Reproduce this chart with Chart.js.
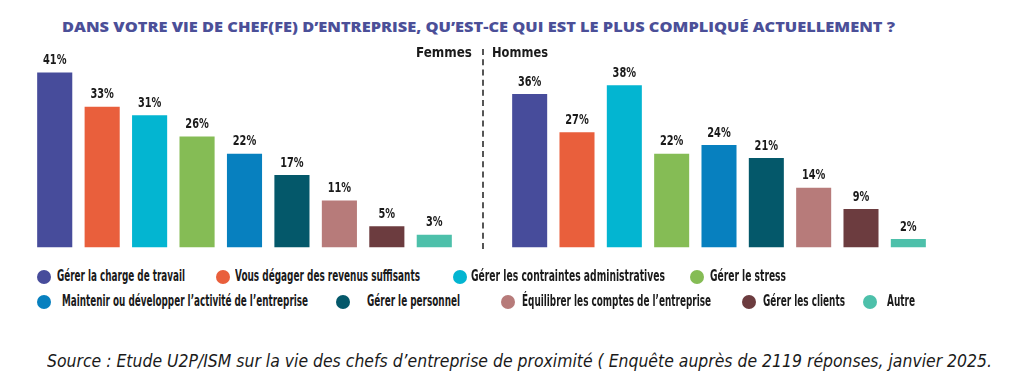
<!DOCTYPE html>
<html lang="fr">
<head>
<meta charset="utf-8">
<script src="https://cdn.jsdelivr.net/npm/chart.js@4.4.1/dist/chart.umd.min.js"></script>
<style>
  body { margin: 0; background: #fff; width: 1024px; height: 387px; overflow: hidden; position: relative; }
  .narrow { font-family: 'DejaVu Sans', sans-serif; }
  .fit { position: absolute; white-space: nowrap; transform-origin: 0 0; }
  #title { left: 62px; top: 17px; font-family: 'Open Sans', sans-serif; font-weight: 800;
           font-size: 14px; color: #4b4f98; }
  .panel { position: absolute; top: 40px; width: 480px; height: 210px; }
  #divider { position: absolute; left: 482px; top: 49px; height: 200px; border-left: 2px dashed #555; }
  .side { top: 44px; font-size: 14.5px; font-weight: bold; color: #1a1a1a; }
  .lg { font-size: 15px; font-weight: bold; color: #1a1a1a; }
  .dot { position: absolute; width: 14px; height: 14px; border-radius: 50%; }
  #source { left: 47px; top: 351px; font-size: 17px; font-style: italic; color: #1a1a1a; }
</style>
</head>
<body>

<div id="title" class="fit" data-w="833">DANS VOTRE VIE DE CHEF(FE) D’ENTREPRISE, QU’EST-CE QUI EST LE PLUS COMPLIQUÉ ACTUELLEMENT ?</div>

<div class="panel" style="left:0"><canvas id="chartF"></canvas></div>
<div class="panel" style="left:475px"><canvas id="chartH"></canvas></div>
<div id="divider"></div>
<div class="fit side narrow" style="left:416px" data-w="56">Femmes</div>
<div class="fit side narrow" style="left:492px" data-w="56">Hommes</div>

<div id="legend"></div>

<div id="source" class="fit narrow" data-w="945">Source : Etude U2P/ISM sur la vie des chefs d’entreprise de proximité ( Enquête auprès de 2119 réponses, janvier 2025.</div>

<script>
// Data
// --------------------------------------------
let categories = [
    'Gérer la charge de travail',
    'Vous dégager des revenus suffisants',
    'Gérer les contraintes administratives',
    'Gérer le stress',
    'Maintenir ou développer l’activité de l’entreprise',
    'Gérer le personnel',
    'Équilibrer les comptes de l’entreprise',
    'Gérer les clients',
    'Autre'
]
let femmes = [41, 33, 31, 26, 22, 17, 11, 5, 3]
let hommes = [36, 27, 38, 22, 24, 21, 14, 9, 2]
let colors = ['#474c9b', '#e95f3c', '#03b5d1', '#85bc55', '#0780bf', '#04586a', '#b77b7a', '#6c3c3f', '#4dc0aa']

// Legend layout (dot x, text x, text end x, row)
// --------------------------------------------
let legendPos = [
    [44, 57, 185, 0], [223, 235, 420, 0], [460, 471, 665, 0], [697, 710, 786, 0],
    [44, 62, 308, 1], [343, 367, 460, 1], [508, 522, 711, 1], [749, 763, 845, 1], [870, 887, 915, 1]
]
let rowY = [277, 302]

function buildLegend() {
    let box = document.getElementById('legend')
    categories.forEach((c, i) => {
        let p = legendPos[i]
        let dot = document.createElement('div')
        dot.className = 'dot'
        dot.style.left = (p[0] - 7) + 'px'
        dot.style.top = (rowY[p[3]] - 7) + 'px'
        dot.style.background = colors[i]
        box.appendChild(dot)
        let t = document.createElement('div')
        t.className = 'fit lg narrow'
        t.style.left = p[1] + 'px'
        t.style.top = (rowY[p[3]] - 10) + 'px'
        t.dataset.w = p[2] - p[1]
        t.textContent = c
        box.appendChild(t)
    })
}

// squeeze texts horizontally to the width seen in the picture
function fitTexts() {
    document.querySelectorAll('.fit').forEach(el => {
        let w = el.getBoundingClientRect().width
        el.style.transform = 'scaleX(' + (el.dataset.w / w) + ')'
    })
}

// Value labels above bars
// --------------------------------------------
const valueLabels = {
    id: 'valueLabels',
    afterDatasetsDraw(chart) {
        let ctx = chart.ctx
        let meta = chart.getDatasetMeta(0)
        ctx.save()
        ctx.font = 'bold 14px "DejaVu Sans", sans-serif'
        ctx.fillStyle = '#1a1a1a'
        ctx.textAlign = 'center'
        ctx.textBaseline = 'bottom'
        meta.data.forEach((bar, i) => {
            ctx.save()
            ctx.translate(bar.x, bar.y - 5)
            ctx.scale(0.7, 1)
            ctx.fillText(chart.data.datasets[0].data[i] + '%', 0, 0)
            ctx.restore()
        })
        ctx.restore()
    }
}

function plot(id, data, padLeft, padRight) {
    let ctx = document.getElementById(id).getContext('2d')
    return new Chart(ctx, {
        type: 'bar',
        data: {
            labels: categories,
            datasets: [{
                data: data,
                backgroundColor: colors,
                categoryPercentage: 1,
                barPercentage: 0.74
            }]
        },
        options: {
            responsive: true,
            maintainAspectRatio: false,
            animation: false,
            layout: { padding: { left: padLeft, right: padRight, top: 15.5, bottom: 2.5 } },
            plugins: { legend: { display: false }, tooltip: { enabled: false } },
            scales: {
                x: { display: false },
                y: { display: false, min: 0, max: 45 }
            }
        },
        plugins: [valueLabels]
    })
}

// Main
// --------------------------------------------
buildLegend()
fitTexts()
plot('chartF', femmes, 31, 22)
plot('chartH', hommes, 31, 23)
</script>
</body>
</html>
